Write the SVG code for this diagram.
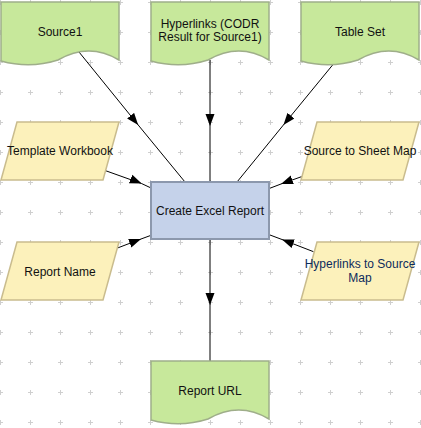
<svg xmlns="http://www.w3.org/2000/svg" xmlns:xlink="http://www.w3.org/1999/xlink" width="421" height="428" viewBox="0 0 421 428">
<style>
  .doc { fill: #c7e89b; stroke: #9fae8a; stroke-width: 1.5; }
  .para { fill: #fcf1bb; stroke: #c9bc8e; stroke-width: 1.5; }
  .proc { fill: #c5d2ea; stroke: #8c98ad; stroke-width: 2; }
  .lbl { font-family: "Liberation Sans", Arial, sans-serif; font-size: 12px; fill: #111; text-anchor: middle; }
  .blue { fill: #0d2b5c; }
  .edge { fill: none; stroke: #000; stroke-width: 1; marker-mid: url(#arrow); }
</style>
<defs>
  <pattern id="grid" x="-15" y="-13" width="30" height="30" patternUnits="userSpaceOnUse">
    <path d="M13,15.5 H18 M15.5,13 V18" stroke="#cfcfcf" stroke-width="1" fill="none"/>
  </pattern>
  <marker id="arrow" viewBox="-12 -5 12 10" refX="0" refY="0" markerWidth="12" markerHeight="10" markerUnits="userSpaceOnUse" orient="auto">
    <path d="M0,0 L-12,-4.5 L-12,4.5 Z" fill="#000"/>
  </marker>
  <path id="doc" d="M0,0 H118 V58 Q88,40 57,58 Q29,67 0,59 Z"/>
</defs>
<rect x="0" y="0" width="421" height="428" fill="#fff"/>
<rect x="0" y="0" width="421" height="428" fill="url(#grid)"/>

<g id="connectors">
  <path class="edge" d="M79,52 L138.2,125 L185,182"/>
  <path class="edge" d="M210,60 L210,126 L210,182"/>
  <path class="edge" d="M333,64.5 L283.4,125 L237,182"/>
  <path class="edge" d="M105.6,170.7 L141.7,183.6 L150,187.5"/>
  <path class="edge" d="M117.5,248 L141,239 L150,235.7"/>
  <path class="edge" d="M302,176.5 L281,184 L270,188.2"/>
  <path class="edge" d="M313.5,251.7 L282,239.5 L270,235"/>
  <path class="edge" d="M210,240 L210,305 L210,361"/>
</g>

<g id="source1">
  <use xlink:href="#doc" x="1" y="2" class="doc"/>
  <text class="lbl" x="60" y="35.5">Source1</text>
</g>
<g id="hyperlinks-codr">
  <use xlink:href="#doc" x="151" y="2" class="doc"/>
  <text class="lbl" x="210" y="28">Hyperlinks (CODR</text>
  <text class="lbl" x="210" y="41.3">Result for Source1)</text>
</g>
<g id="table-set">
  <use xlink:href="#doc" x="301" y="2" class="doc"/>
  <text class="lbl" x="360" y="35.5">Table Set</text>
</g>
<g id="template-workbook">
  <polygon class="para" points="17,122 119,122 103,180 1,180"/>
  <text class="lbl" x="60" y="155">Template Workbook</text>
</g>
<g id="source-to-sheet-map">
  <polygon class="para" points="317,122 419,122 403,180 301,180"/>
  <text class="lbl" x="360" y="155">Source to Sheet Map</text>
</g>
<g id="create-excel-report">
  <rect class="proc" x="151" y="182" width="118" height="57"/>
  <text class="lbl" x="210" y="215">Create Excel Report</text>
</g>
<g id="report-name">
  <polygon class="para" points="17,242 119,242 103,300 1,300"/>
  <text class="lbl" x="60" y="275.5">Report Name</text>
</g>
<g id="hyperlinks-to-source-map">
  <polygon class="para" points="317,242 419,242 403,300 301,300"/>
  <text class="lbl blue" x="360" y="268.3">Hyperlinks to Source</text>
  <text class="lbl blue" x="360" y="281.7">Map</text>
</g>
<g id="report-url">
  <use xlink:href="#doc" x="151" y="361" class="doc"/>
  <text class="lbl" x="210" y="395">Report URL</text>
</g>
</svg>
